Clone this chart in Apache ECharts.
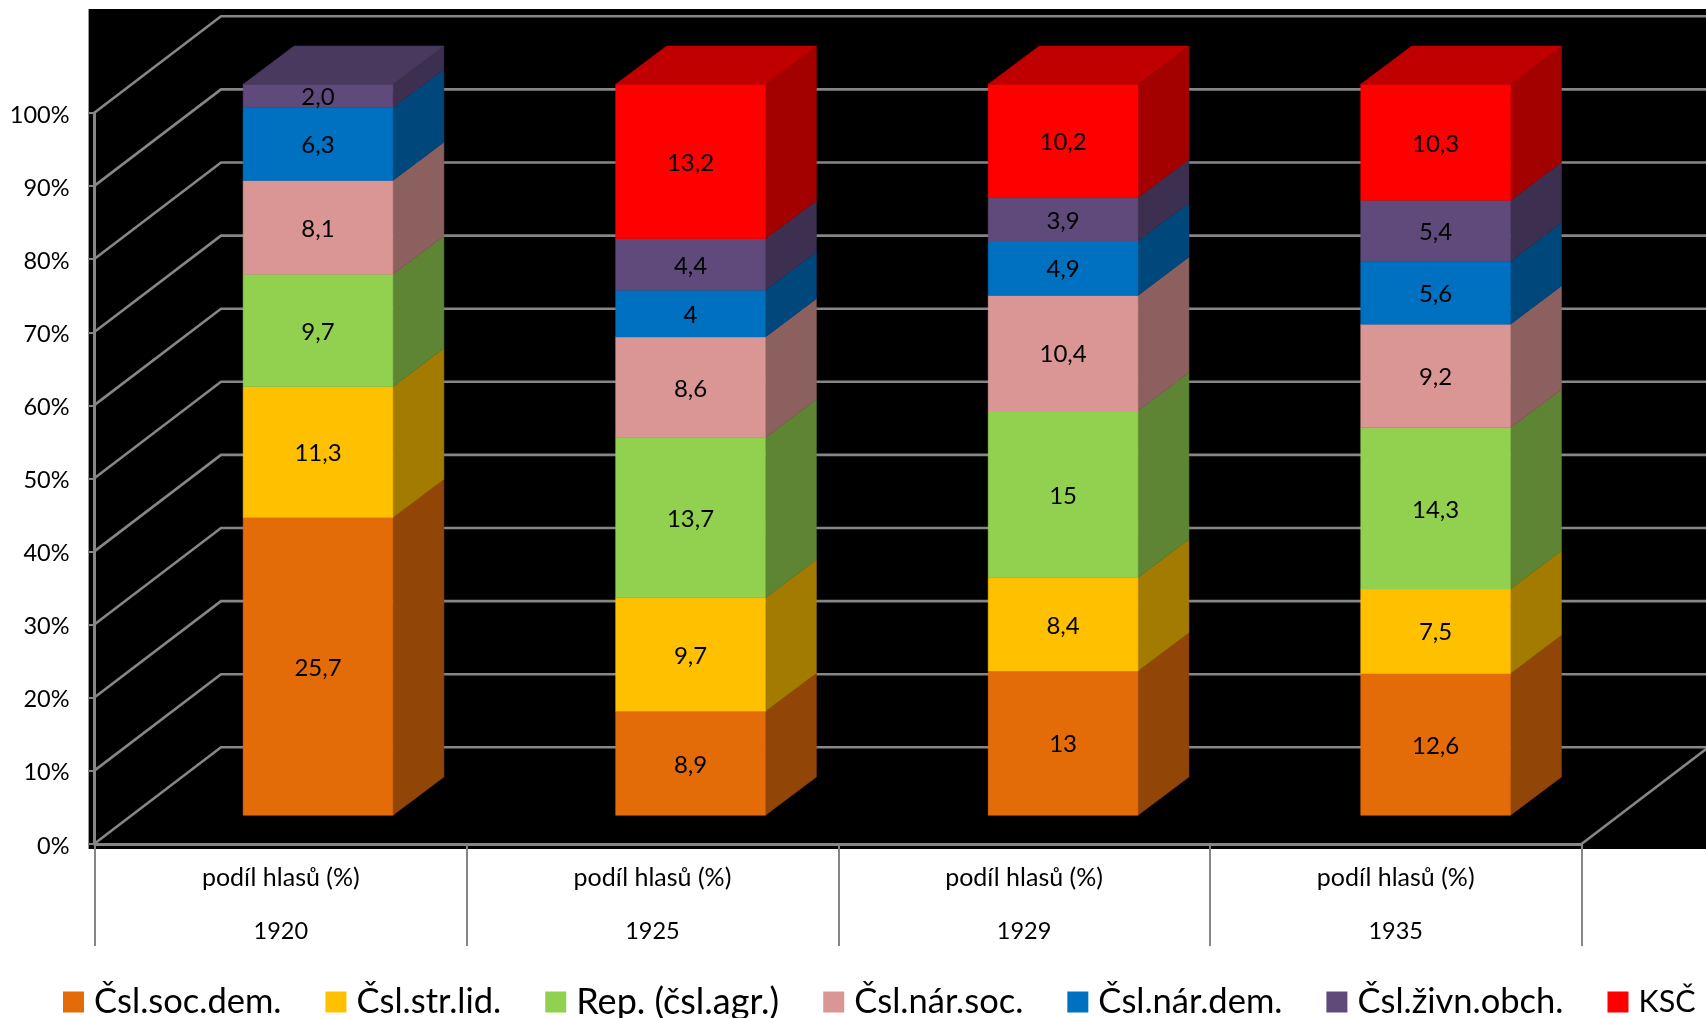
<!DOCTYPE html>
<html>
<head>
<meta charset="utf-8">
<style>html,body{margin:0;padding:0;background:#fff}#c{width:1706px;height:1018px}</style>
<script src="https://cdn.jsdelivr.net/npm/echarts@6/dist/echarts.min.js"></script>
</head>
<body>
<div id="c"></div>
<script>
const years = ['1920', '1925', '1929', '1935'];
const measure = 'podíl hlasů (%)';
const yTicks = [0, 10, 20, 30, 40, 50, 60, 70, 80, 90, 100];
const partyNames = ['Čsl.soc.dem.', 'Čsl.str.lid.', 'Rep. (čsl.agr.)', 'Čsl.nár.soc.', 'Čsl.nár.dem.', 'Čsl.živn.obch.', 'KSČ'];
const socDem = [25.7, 8.9, 13, 12.6];
const strLid = [11.3, 9.7, 8.4, 7.5];
const agrar = [9.7, 13.7, 15, 14.3];
const narSoc = [8.1, 8.6, 10.4, 9.2];
const narDem = [6.3, 4, 4.9, 5.6];
const zivn = [2.0, 4.4, 3.9, 5.4];
const ksc = [0, 13.2, 10.2, 10.3];
const values = [socDem, strLid, agrar, narSoc, narDem, zivn, ksc];
const labelOverrides = { '5-0': '2,0' };

const faceColors = ['#E36C09', '#FFC000', '#92D050', '#D99694', '#0070C0', '#604A7B', '#FF0000'];
const sideColors = ['#914506', '#A37B00', '#5D8533', '#8B605F', '#00477B', '#3D2F4F', '#A30000'];
const topColors = ['#AE5307', '#C49300', '#70A03D', '#A77372', '#005693', '#4A395E', '#C00000'];
const legendFontSizes = [34.5, 34.5, 36, 34.5, 34.5, 34.5, 30.5];

const FONT = 'Lato, Carlito, Calibri, sans-serif';
const GRID = '#868686';
const WALL_DX = 127, WALL_DY = 96.7;
const BAR_SHIFT_X = 37.2, BAR_SPREAD = 0.9, BAR_SHIFT_Y = 28.7, BAR_DX = 51, BAR_DY = 38.3, BAR_RATIO = 0.403;

const totals = years.map((_, i) => values.reduce((s, a) => s + a[i], 0));

function seriesData(k) {
  return years.map((y, i) => {
    let low = 0;
    for (let j = 0; j < k; j++) low += values[j][i];
    return [i, low / totals[i] * 100, (low + values[k][i]) / totals[i] * 100, values[k][i], k];
  });
}

function renderBar(params, api) {
  const i = api.value(0), k = api.value(4), v = api.value(3);
  if (!v) return { type: 'group', children: [] };
  const low = api.coord([i, api.value(1)]);
  const high = api.coord([i, api.value(2)]);
  const w = api.size([1, 0])[0] * BAR_RATIO;
  const cx = low[0] + BAR_SHIFT_X + i * BAR_SPREAD;
  const l = cx - w / 2, r = cx + w / 2;
  const y0 = low[1] - BAR_SHIFT_Y, y1 = high[1] - BAR_SHIFT_Y;
  const poly = (pts, fill) => ({ type: 'polygon', shape: { points: pts }, style: { fill, stroke: fill, lineWidth: 0.5 }, silent: true });
  const children = [
    poly([[r, y0], [r + BAR_DX, y0 - BAR_DY], [r + BAR_DX, y1 - BAR_DY], [r, y1]], sideColors[k]),
    poly([[l, y0], [r, y0], [r, y1], [l, y1]], faceColors[k])
  ];
  let isTop = true;
  for (let j = k + 1; j < values.length; j++) if (values[j][i]) isTop = false;
  if (isTop) children.push(poly([[l, y1], [r, y1], [r + BAR_DX, y1 - BAR_DY], [l + BAR_DX, y1 - BAR_DY]], topColors[k]));
  const text = labelOverrides[k + '-' + i] || String(v).replace('.', ',');
  children.push({ type: 'text', silent: true, style: { text, x: cx, y: (y0 + y1) / 2 + 1.6, align: 'center', verticalAlign: 'middle', fontSize: 24, fontFamily: FONT, fill: '#000' } });
  return { type: 'group', children };
}

function renderWall(params, api) {
  const t = api.value(1);
  const p = api.coord([0, t]);
  const sys = params.coordSys;
  const x0 = sys.x - 1, y = p[1], W = api.getWidth();
  const style = { stroke: GRID, lineWidth: 2.6, fill: null };
  const children = [{ type: 'polyline', silent: true, shape: { points: [[x0, y], [x0 + WALL_DX, y - WALL_DY], [W, y - WALL_DY]] }, style }];
  if (t === 0) children.push({ type: 'line', silent: true, shape: { x1: sys.x + sys.width, y1: y, x2: sys.x + sys.width + WALL_DX, y2: y - WALL_DY }, style });
  return { type: 'group', children };
}

const series = [{
  type: 'custom', name: 'mřížka', z: 1, silent: true, renderItem: renderWall,
  data: yTicks.map(t => [0, t]), encode: { x: 0, y: 1 }
}].concat(partyNames.map((name, k) => ({
  type: 'custom', name, z: 2 + k, silent: true, renderItem: renderBar,
  itemStyle: { color: faceColors[k] },
  data: seriesData(k), encode: { x: 0, y: [1, 2] }
})));

const chart = echarts.init(document.getElementById('c'), null, { renderer: 'canvas' });
chart.setOption({
  animation: false,
  backgroundColor: '#fff',
  graphic: [{ type: 'rect', z: -10, silent: true, shape: { x: 88.6, y: 9, width: 1618, height: 840 }, style: { fill: '#000' } }],
  grid: { left: 95, right: 124.5, top: 113, bottom: 174, containLabel: false },
  legend: {
    data: partyNames.map((name, k) => ({ name, textStyle: { fontSize: legendFontSizes[k] } })),
    left: 63, top: 984, padding: 0, width: 1640, icon: 'rect', itemWidth: 21, itemHeight: 21, itemGap: 44,
    selectedMode: false, textStyle: { fontSize: 34.5, fontFamily: FONT, color: '#000', padding: [0, 0, 4, 5] }
  },
  xAxis: {
    type: 'category', data: years, boundaryGap: true,
    axisLine: { show: true, onZero: false, lineStyle: { color: GRID, width: 3 } },
    axisTick: { show: true, length: 102, lineStyle: { color: GRID, width: 2 } },
    axisLabel: {
      interval: 0, margin: 21, fontFamily: FONT, color: '#000',
      formatter: v => '{m|' + measure + '}\n{m| }\n{y|' + v + '}',
      rich: { m: { fontSize: 25, lineHeight: 26.5, fontFamily: FONT, color: '#000' }, y: { fontSize: 23.5, lineHeight: 26.5, fontFamily: FONT, color: '#000' } }
    }
  },
  yAxis: {
    type: 'value', min: 0, max: 100, interval: 10, offset: 1,
    axisLine: { show: true, lineStyle: { color: GRID, width: 3 } },
    axisTick: { show: true, length: 6, lineStyle: { color: GRID, width: 2 } },
    axisLabel: { margin: 24.5, fontSize: 23.5, fontFamily: FONT, color: '#000', verticalAlign: 'top', lineHeight: 4, formatter: '{value}%' },
    splitLine: { show: false }
  },
  series
});
</script>
</body>
</html>
